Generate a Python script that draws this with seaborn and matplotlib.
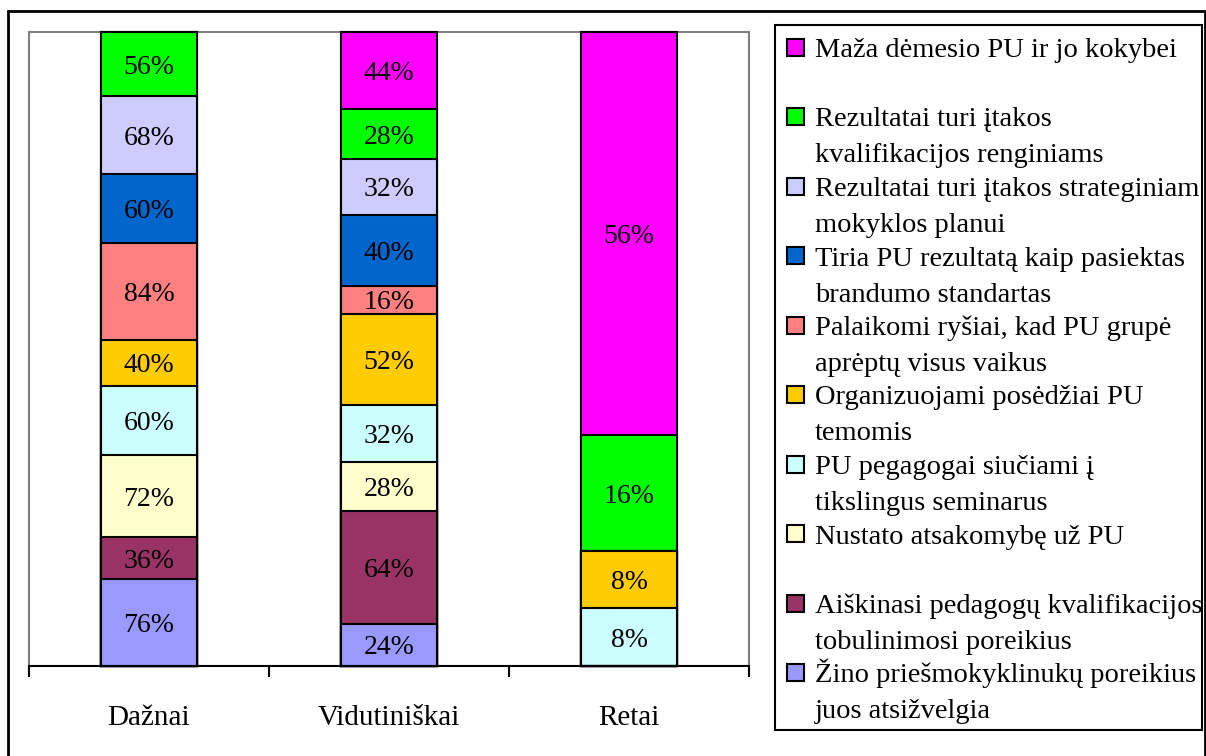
import numpy as np
import pandas as pd
import matplotlib
matplotlib.use("Agg")
import matplotlib.pyplot as plt
import seaborn as sns
from matplotlib.patches import Rectangle
from matplotlib.transforms import Bbox, TransformedBbox

# ---------------- data ----------------
categories = ["Dažnai", "Vidutiniškai", "Retai"]

# series listed bottom -> top of the stack
zino = [76, 24, 0]
aiskinasi = [36, 64, 0]
nustato = [72, 28, 0]
pedagogai = [60, 32, 8]
posedziai = [40, 52, 8]
rysiai = [84, 16, 0]
tiria = [60, 40, 0]
strateginiam = [68, 32, 0]
kvalifikacijos = [56, 28, 16]
maza = [0, 44, 56]

series_values = [zino, aiskinasi, nustato, pedagogai, posedziai,
                 rysiai, tiria, strateginiam, kvalifikacijos, maza]

series_labels = [
    "Žino priešmokyklinukų poreikius į\njuos atsižvelgia",
    "Aiškinasi pedagogų kvalifikacijos\ntobulinimosi poreikius",
    "Nustato atsakomybę už PU",
    "PU pegagogai siučiami į\ntikslingus seminarus",
    "Organizuojami posėdžiai PU\ntemomis",
    "Palaikomi ryšiai, kad PU grupė\naprėptų visus vaikus",
    "Tiria PU rezultatą kaip pasiektas\nbrandumo standartas",
    "Rezultatai turi įtakos strateginiam\nmokyklos planui",
    "Rezultatai turi įtakos\nkvalifikacijos renginiams",
    "Maža dėmesio PU ir jo kokybei",
]

series_colors = ["#9999FF", "#993366", "#FFFFCC", "#CCFFFF", "#FFCC00",
                 "#FF8080", "#0066CC", "#CCCCFF", "#00FF00", "#FF00FF"]

# ---------------- figure ----------------
sns.set_style("white")
plt.rcParams["font.family"] = ["Liberation Serif", "DejaVu Serif"]

W, H = 1206, 756
fig = plt.figure(figsize=(W / 100, H / 100), dpi=100)


def fx(px):
    return px / W


def fy(py):
    return 1 - py / H


ax = fig.add_axes([fx(29), fy(666), fx(749) - fx(29), fy(32) - fy(666)])

vals = np.array(series_values, dtype=float)
shares = vals / vals.sum(axis=0) * 100
cum = shares.cumsum(axis=0)

# cumulative bars drawn from top of stack downward
for i in reversed(range(len(series_values))):
    df = pd.DataFrame({"cat": categories, "val": cum[i]})
    sns.barplot(data=df, x="cat", y="val", order=categories,
                color=series_colors[i], saturation=1, width=0.4,
                edgecolor="black", linewidth=1.5, ax=ax,
                zorder=3, clip_on=False)

for i in range(len(series_values)):
    for j in range(len(categories)):
        v = series_values[i][j]
        if v > 0:
            ax.text(j, cum[i, j] - shares[i, j] / 2, f"{v}%",
                    ha="center", va="center_baseline", fontsize=20,
                    color="black", zorder=5)

ax.set_xlim(-0.5, 2.5)
ax.set_ylim(0, 100)
ax.set_yticks([])
ax.set_xlabel("")
ax.set_ylabel("")
for s in ["left", "top", "right"]:
    ax.spines[s].set_visible(True)
    ax.spines[s].set_color("#808080")
    ax.spines[s].set_linewidth(1.5)
ax.spines["bottom"].set_color("black")
ax.spines["bottom"].set_linewidth(1.5)
ax.spines["bottom"].set_zorder(4)

ax.set_xticks([0, 1, 2])
ax.set_xticklabels(categories)
ax.set_xticks([-0.5, 0.5, 1.5, 2.5], minor=True)
ax.tick_params(axis="x", which="major", length=0, pad=28, labelsize=21,
               labelcolor="black")
ax.tick_params(axis="x", which="minor", bottom=True, length=8, width=1.5,
               color="black", direction="out")

# outer border
fig.patches.append(Rectangle((fx(8), -0.05), fx(1205) - fx(8), fy(11) + 0.05,
                             transform=fig.transFigure, fill=False,
                             edgecolor="black", linewidth=2))

# legend box
lx0, lx1, ly0, ly1 = 775, 1202, 25, 730
fig.patches.append(Rectangle((fx(lx0), fy(ly1)), fx(lx1) - fx(lx0),
                             fy(ly0) - fy(ly1), transform=fig.transFigure,
                             fill=False, edgecolor="black", linewidth=1.5))
clip = TransformedBbox(Bbox([[fx(lx0), fy(ly1)], [fx(lx1 - 1), fy(ly0)]]),
                       fig.transFigure)

n = len(series_values)
for k in range(n):
    i = n - 1 - k
    base = 57 + 69.5 * k
    sq = 17
    fig.patches.append(Rectangle((fx(787), fy(base - 10 + sq / 2)),
                                 fx(787 + sq) - fx(787), sq / H,
                                 transform=fig.transFigure,
                                 facecolor=series_colors[i],
                                 edgecolor="black", linewidth=1.5))
    for l, line in enumerate(series_labels[i].split("\n")):
        t = fig.text(fx(815), fy(base + 36 * l), line, ha="left",
                     va="baseline", fontsize=20.5, color="black")
        t.set_clip_box(clip)
        t.set_clip_on(True)

fig.savefig("out.png", dpi=100)
